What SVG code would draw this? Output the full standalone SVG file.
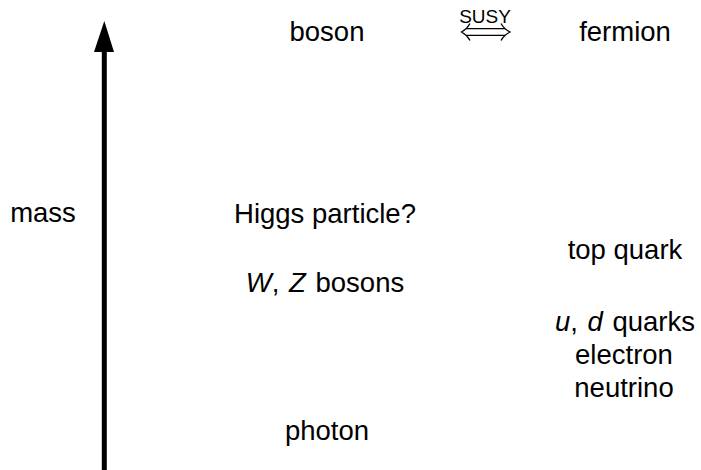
<svg xmlns="http://www.w3.org/2000/svg" width="701" height="470" viewBox="0 0 701 470">
<style>
text{font-family:"Liberation Sans",Arial,Helvetica,sans-serif;font-size:27.5px;fill:#000;text-anchor:middle}
.s{font-size:19px}
.i{font-style:italic}
.arr{fill:none;stroke:#000;stroke-width:1.3}
</style>
<rect width="701" height="470" fill="#fff"/>
<g id="connectors">
<rect x="101.8" y="50" width="5" height="420" fill="#000"/>
<polygon points="104.3,21 114,52 94,52" fill="#000"/>
<g id="susy-arrow">
<path class="arr" d="M466,28.7 H505 M466,35.3 H505"/>
<path class="arr" d="M470,23.5 Q467,29 461.5,32 Q467,35 470,40.5"/>
<path class="arr" d="M501,23.5 Q504,29 510,32 Q504,35 501,40.5"/>
</g>
</g>
<g id="boson"><text x="327" y="41">boson</text></g>
<g id="susy"><text class="s" x="485" y="23">SUSY</text></g>
<g id="fermion"><text x="625" y="41">fermion</text></g>
<g id="mass"><text x="43" y="222">mass</text></g>
<g id="higgs"><text x="325" y="223">Higgs particle?</text></g>
<g id="top"><text x="625" y="259">top quark</text></g>
<g id="wz"><text x="325" y="292"><tspan class="i">W</tspan>, <tspan class="i" dx="2">Z</tspan><tspan dx="2"> bosons</tspan></text></g>
<g id="ud"><text x="625" y="331"><tspan class="i">u</tspan>, <tspan class="i" dx="2">d</tspan><tspan dx="2"> quarks</tspan></text></g>
<g id="electron"><text x="624" y="364">electron</text></g>
<g id="neutrino"><text x="624" y="397">neutrino</text></g>
<g id="photon"><text x="327" y="440">photon</text></g>
</svg>
